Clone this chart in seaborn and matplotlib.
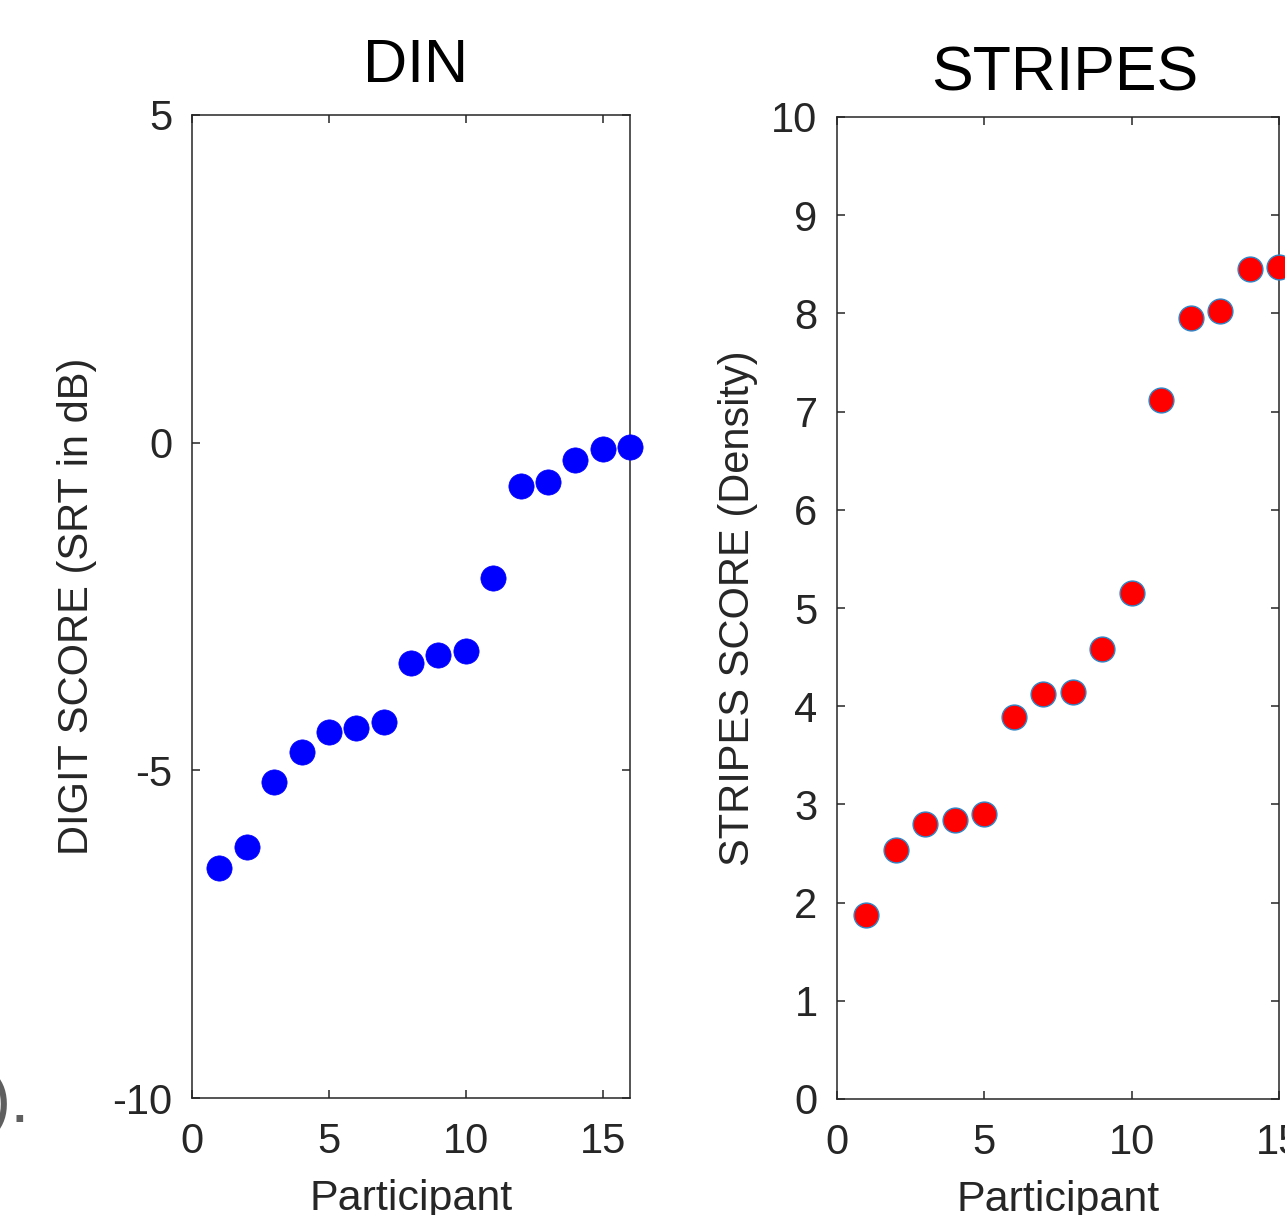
import matplotlib
matplotlib.use("Agg")
import matplotlib.pyplot as plt
import seaborn as sns
import pandas as pd

# ---- data ----
din_participant = list(range(1, 17))
din_score = [-6.49, -6.17, -5.18, -4.72, -4.41, -4.35, -4.27, -3.36,
             -3.24, -3.18, -2.06, -0.66, -0.60, -0.27, -0.09, -0.06]

stripes_participant = list(range(1, 16))
stripes_score = [1.87, 2.54, 2.80, 2.84, 2.90, 3.89, 4.12, 4.14,
                 4.58, 5.15, 7.12, 7.95, 8.02, 8.45, 8.47]

din_yticks = [-10, -5, 0, 5]
din_xticks = [0, 5, 10, 15]
stripes_yticks = list(range(0, 11))
stripes_xticks = [0, 5, 10, 15]

sns.set_theme(style="white")
plt.rcParams['font.family'] = ['Liberation Sans', 'DejaVu Sans']
plt.rcParams['axes.unicode_minus'] = False

W, H = 1285, 1215
fig = plt.figure(figsize=(W / 100, H / 100), dpi=100)
fig.patch.set_facecolor("white")

def frac_box(x0, y0, x1, y1):
    return [x0 / W, 1 - y1 / H, (x1 - x0) / W, (y1 - y0) / H]

ax1 = fig.add_axes(frac_box(192, 115, 630, 1098))
ax2 = fig.add_axes(frac_box(837, 117, 1279, 1099))

df1 = pd.DataFrame({"Participant": din_participant, "Score": din_score})
df2 = pd.DataFrame({"Participant": stripes_participant, "Score": stripes_score})

sns.scatterplot(data=df1, x="Participant", y="Score", ax=ax1, color="#0000FF",
                edgecolor="#0000FF", linewidth=0.5, s=330, clip_on=False, zorder=3)
sns.scatterplot(data=df2, x="Participant", y="Score", ax=ax2, color="#FF0000",
                edgecolor="#2E86C8", linewidth=1.0, s=320, clip_on=False, zorder=3)

dark = "#262626"
for ax, xt, yt, xl, yl in [(ax1, din_xticks, din_yticks, (0, 16), (-10, 5)),
                           (ax2, stripes_xticks, stripes_yticks, (0, 15), (0, 10))]:
    ax.set_xlim(*xl)
    ax.set_ylim(*yl)
    ax.set_xticks(xt)
    ax.set_yticks(yt)
    ax.set_facecolor("white")
    for sp in ax.spines.values():
        sp.set_visible(True)
        sp.set_color(dark)
        sp.set_linewidth(1.1)
    ax.tick_params(axis="both", which="both", direction="in", length=6, width=1.1,
                   color=dark, labelcolor=dark, labelsize=30,
                   top=True, right=True, bottom=True, left=True)
    ax.tick_params(axis="y", pad=14)
    ax.tick_params(axis="x", pad=17)
    ax.grid(False)

ax1.set_xlabel("Participant", fontsize=31, color=dark, va="baseline")
ax1.xaxis.set_label_coords(0.5, -0.114)
ax2.set_xlabel("Participant", fontsize=31, color=dark, va="baseline")
ax2.xaxis.set_label_coords(0.5, -0.114)

ax1.set_ylabel("DIGIT SCORE (SRT in dB)", fontsize=30, color=dark, va="center")
ax1.yaxis.set_label_coords(-0.2626, 0.5)
ax2.set_ylabel("STRIPES SCORE (Density)", fontsize=30, color=dark, va="center")
ax2.yaxis.set_label_coords(-0.2235, 0.5)

ax1.set_title("DIN", fontsize=44, color="black", pad=24, x=0.51)
ax2.set_title("STRIPES", fontsize=45, color="black", pad=19, x=0.515)

# stray glyph from neighbouring panel label (cropped)
fig.text(30 / W, 1 - 1122 / H, ").", fontsize=50, color="#5f5f5f",
         ha="right", va="baseline")

fig.savefig("out.png", dpi=100, facecolor="white")
